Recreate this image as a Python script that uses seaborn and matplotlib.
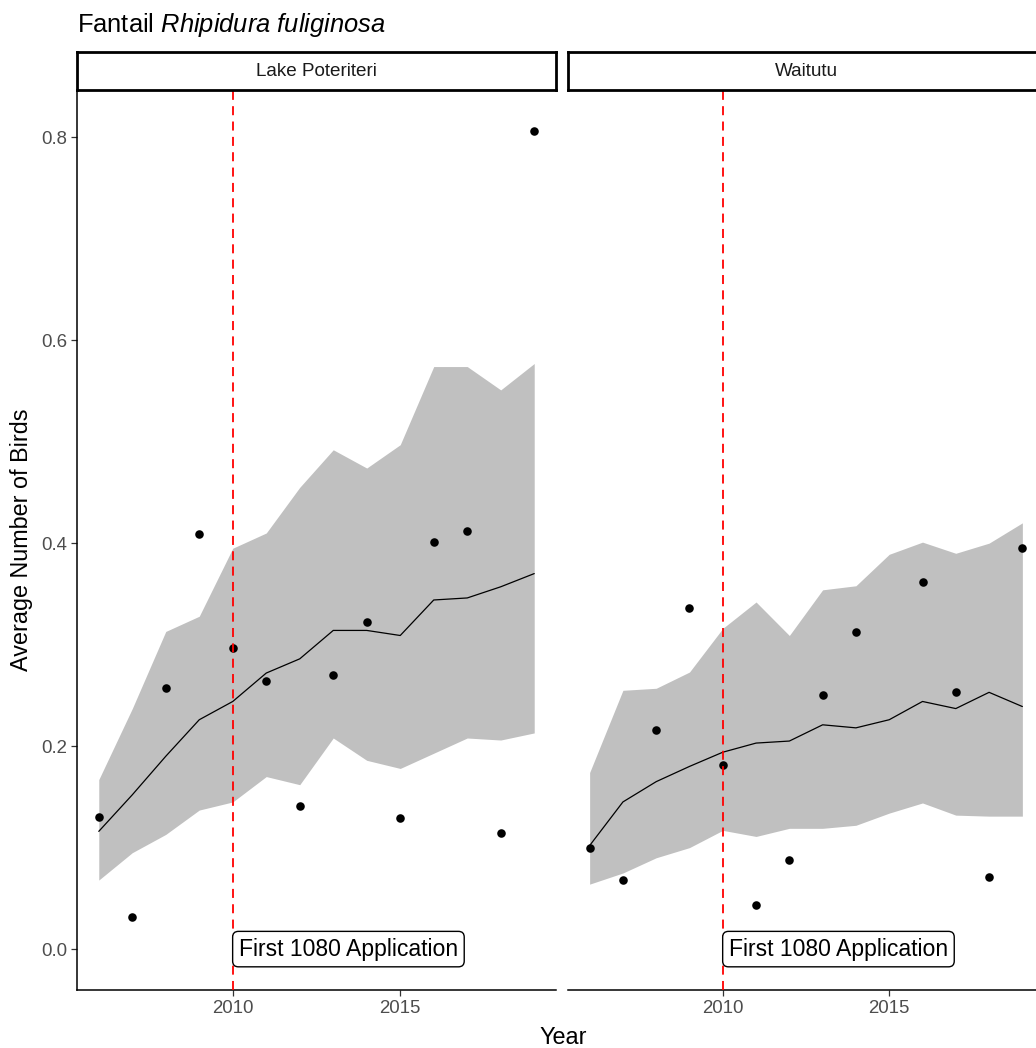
import numpy as np
import pandas as pd
import matplotlib
matplotlib.use("Agg")
import matplotlib.pyplot as plt
import seaborn as sns

sns.set_theme(style="white")
plt.rcParams['font.family'] = ['Liberation Sans', 'DejaVu Sans']
plt.rcParams['mathtext.fontset'] = 'custom'
plt.rcParams['mathtext.rm'] = 'Liberation Sans'
plt.rcParams['mathtext.it'] = 'Liberation Sans:italic'

years = list(range(2006, 2020))
sites = ["Lake Poteriteri", "Waitutu"]

# Lake Poteriteri
lp_obs = [0.130, 0.032, 0.257, 0.409, 0.297, 0.264, 0.141, 0.270, 0.322, 0.129, 0.401, 0.412, 0.114, 0.806]
lp_fit = [0.116, 0.152, 0.190, 0.226, 0.244, 0.272, 0.286, 0.314, 0.314, 0.309, 0.344, 0.346, 0.357, 0.370]
lp_upr = [0.167, 0.237, 0.313, 0.328, 0.395, 0.410, 0.455, 0.492, 0.474, 0.497, 0.574, 0.574, 0.551, 0.577]
lp_lwr = [0.068, 0.095, 0.113, 0.137, 0.145, 0.170, 0.162, 0.208, 0.186, 0.178, 0.193, 0.208, 0.206, 0.213]

# Waitutu
wt_obs = [0.100, 0.068, 0.216, 0.336, 0.181, 0.043, 0.088, 0.250, 0.312, np.nan, 0.362, 0.253, 0.071, 0.395]
wt_fit = [0.102, 0.145, 0.165, 0.180, 0.194, 0.203, 0.205, 0.221, 0.218, 0.226, 0.244, 0.237, 0.253, 0.239]
wt_upr = [0.174, 0.255, 0.257, 0.273, 0.316, 0.342, 0.309, 0.354, 0.358, 0.389, 0.401, 0.390, 0.400, 0.420]
wt_lwr = [0.064, 0.075, 0.090, 0.100, 0.117, 0.111, 0.119, 0.119, 0.122, 0.134, 0.144, 0.132, 0.131, 0.131]

x_ticks = [2010, 2015]
y_ticks = [0.0, 0.2, 0.4, 0.6, 0.8]
event_year = 2010
event_label = "First 1080 Application"

frames = []
for site, obs, fit, upr, lwr in [(sites[0], lp_obs, lp_fit, lp_upr, lp_lwr),
                                 (sites[1], wt_obs, wt_fit, wt_upr, wt_lwr)]:
    frames.append(pd.DataFrame({"Year": years, "site": site, "obs": obs,
                                "fit": fit, "upr": upr, "lwr": lwr}))
df = pd.concat(frames, ignore_index=True)

W, H = 1036, 1048
fig = plt.figure(figsize=(W / 100, H / 100), dpi=100)

def fx(px):
    return px / W

def fy(py):
    return 1 - py / H

panel_top, panel_bot = 90, 990
strip_top = 52
panels = [(77, 556), (568, 1044)]

xlim = (2005.35, 2019.65)
ylim = (-0.0403, 0.8465)

tick_color = "#4D4D4D"

for i, (site, (x0, x1)) in enumerate(zip(sites, panels)):
    ax = fig.add_axes([fx(x0), fy(panel_bot), (x1 - x0) / W, (panel_bot - panel_top) / H])
    d = df[df.site == site]
    ax.fill_between(d.Year, d.lwr, d.upr, color="#C0C0C0", lw=0, zorder=1)
    sns.lineplot(data=d, x="Year", y="fit", ax=ax, color="black", lw=0.9, zorder=2)
    sns.scatterplot(data=d.dropna(subset=["obs"]), x="Year", y="obs", ax=ax,
                    color="black", s=38, edgecolor="black", linewidth=0, zorder=3)
    ax.axvline(event_year, color="#FF0000", lw=1.3, ls=(0, (5, 3.5)), zorder=4)
    ax.annotate(event_label, xy=(event_year, 0.0), xytext=(4.4, 0), textcoords="offset points",
                ha="left", va="center", fontsize=16.6, color="black", zorder=5,
                bbox=dict(boxstyle="round,pad=0.27,rounding_size=0.25", fc="white",
                          ec="black", lw=1.0))
    ax.set_xlim(*xlim)
    ax.set_ylim(*ylim)
    ax.set_xticks(x_ticks)
    ax.set_xticklabels([str(t) for t in x_ticks], fontsize=13.4, color=tick_color)
    ax.set_xlabel("")
    ax.set_ylabel("")
    for s in ["top", "right"]:
        ax.spines[s].set_visible(False)
    ax.spines["bottom"].set_color("black")
    ax.spines["bottom"].set_linewidth(1.1)
    if i == 0:
        ax.set_yticks(y_ticks)
        ax.set_yticklabels([f"{t:.1f}" for t in y_ticks], fontsize=13.4, color=tick_color)
        ax.spines["left"].set_color("black")
        ax.spines["left"].set_linewidth(1.1)
        ax.tick_params(axis="y", length=4, width=0.9, color="#333333", pad=3, left=True)
    else:
        ax.set_yticks([])
        ax.spines["left"].set_visible(False)
    ax.tick_params(axis="x", length=4, width=0.9, color="#333333", pad=3, bottom=True)
    ax.set_facecolor("white")

    # strip
    sax = fig.add_axes([fx(x0), fy(panel_top), (x1 - x0) / W, (panel_top - strip_top) / H])
    sax.set_xticks([])
    sax.set_yticks([])
    sax.set_facecolor("white")
    for s in sax.spines.values():
        s.set_visible(True)
        s.set_color("black")
        s.set_linewidth(2.0)
    sax.text(0.5, 0.5, site, ha="center", va="center", fontsize=13.6,
             color="#1A1A1A", transform=sax.transAxes)

fig.text(fx(77), fy(25), r"Fantail $\mathit{Rhipidura\ fuliginosa}$", ha="left",
         va="center", fontsize=18.4, color="black")
fig.text(fx(563), fy(1037), "Year", ha="center", va="center", fontsize=16.8, color="black")
fig.text(fx(22), fy(540), "Average Number of Birds", ha="center", va="center",
         rotation=90, fontsize=16.8, color="black")

fig.savefig("out.png", dpi=100, facecolor="white")
